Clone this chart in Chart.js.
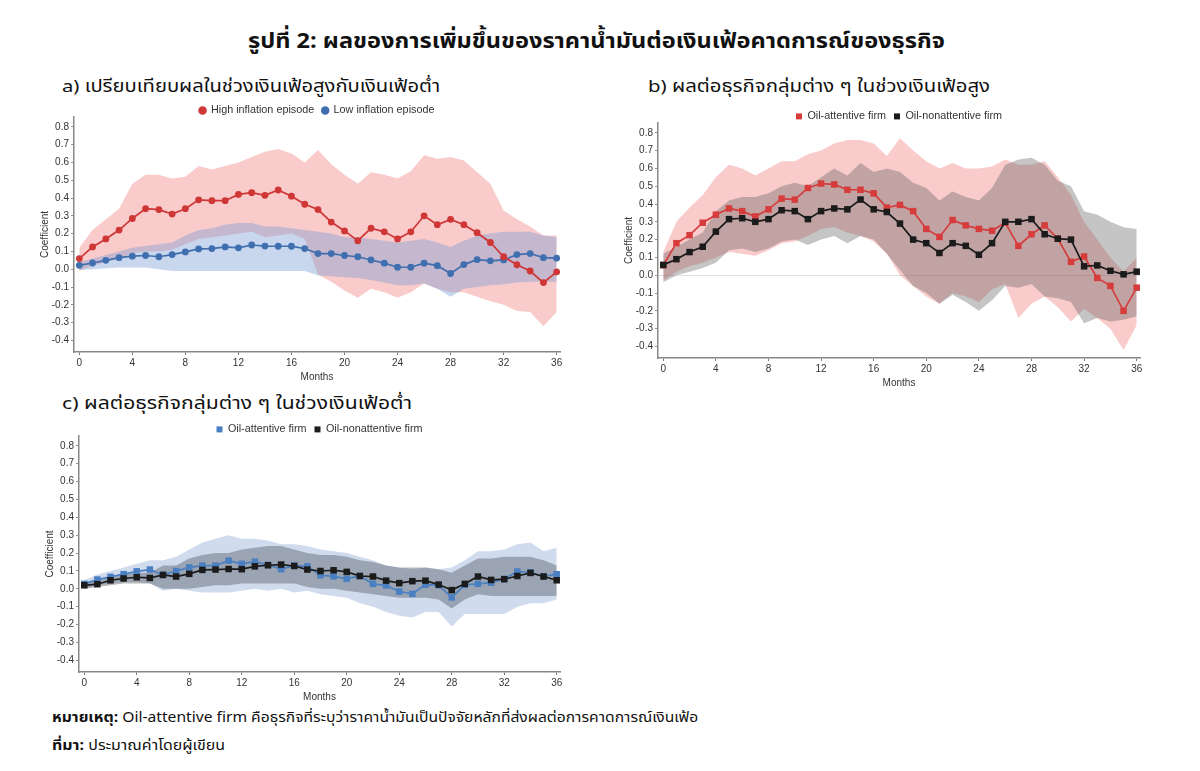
<!DOCTYPE html>
<html>
<head>
<meta charset="utf-8">
<script src="https://cdn.jsdelivr.net/npm/chart.js@4.4.1/dist/chart.umd.min.js"></script>
<style>
  body { margin: 0; background: #fff; width: 1200px; height: 771px; position: relative; overflow: hidden;
         font-family: "Noto Sans Thai", "Noto Sans", "DejaVu Sans", sans-serif; color: #111; }
  .t { position: absolute; white-space: nowrap; transform-origin: left center; line-height: 30px; }
  .box { position: absolute; }
</style>
</head>
<body>
<div class="t" data-w="697" style="left:248px;top:27px;font-size:22px;font-weight:bold">รูปที่ 2: ผลของการเพิ่มขึ้นของราคาน้ำมันต่อเงินเฟ้อคาดการณ์ของธุรกิจ</div>
<div class="t" data-w="378" style="left:62px;top:72px;font-size:17px">a) เปรียบเทียบผลในช่วงเงินเฟ้อสูงกับเงินเฟ้อต่ำ</div>
<div class="t" data-w="342" style="left:648px;top:72px;font-size:17px">b) ผลต่อธุรกิจกลุ่มต่าง ๆ ในช่วงเงินเฟ้อสูง</div>
<div class="t" data-w="350" style="left:62px;top:389px;font-size:17px">c) ผลต่อธุรกิจกลุ่มต่าง ๆ ในช่วงเงินเฟ้อต่ำ</div>
<div class="t" data-w="646" style="left:52px;top:703px;font-size:14px"><b>หมายเหตุ:</b> Oil-attentive firm คือธุรกิจที่ระบุว่าราคาน้ำมันเป็นปัจจัยหลักที่ส่งผลต่อการคาดการณ์เงินเฟ้อ</div>
<div class="t" data-w="173" style="left:52px;top:731px;font-size:14px"><b>ที่มา:</b> ประมาณค่าโดยผู้เขียน</div>

<div class="box" style="left:30px;top:97px;width:550px;height:286px"><canvas id="ca"></canvas></div>
<div class="box" style="left:614px;top:103px;width:546px;height:286px"><canvas id="cb"></canvas></div>
<div class="box" style="left:35px;top:416px;width:545px;height:287px"><canvas id="cc"></canvas></div>

<script>
// horizon in months
const months = [0,1,2,3,4,5,6,7,8,9,10,11,12,13,14,15,16,17,18,19,20,21,22,23,24,25,26,27,28,29,30,31,32,33,34,35,36];
const xTicks = [0,4,8,12,16,20,24,28,32,36];
const yTicks = [-0.4,-0.3,-0.2,-0.1,0,0.1,0.2,0.3,0.4,0.5,0.6,0.7,0.8];

// a) high vs low inflation episode
const aHigh   = [0.06,0.125,0.17,0.22,0.285,0.34,0.335,0.31,0.34,0.39,0.385,0.385,0.42,0.43,0.415,0.445,0.41,0.365,0.335,0.265,0.215,0.16,0.23,0.21,0.17,0.21,0.30,0.25,0.28,0.25,0.205,0.15,0.07,0.025,-0.01,-0.075,-0.015];
const aHighUp = [0.12,0.22,0.28,0.34,0.48,0.53,0.53,0.51,0.52,0.58,0.56,0.58,0.6,0.63,0.66,0.675,0.65,0.6,0.67,0.59,0.53,0.48,0.545,0.53,0.51,0.55,0.64,0.62,0.63,0.61,0.545,0.48,0.33,0.28,0.24,0.19,0.19];
const aHighLo = [-0.01,0.02,0.04,0.06,0.09,0.1,0.1,0.11,0.14,0.17,0.18,0.19,0.2,0.21,0.18,0.19,0.2,0.17,-0.03,-0.07,-0.12,-0.16,-0.11,-0.13,-0.16,-0.13,-0.08,-0.11,-0.13,-0.13,-0.155,-0.18,-0.2,-0.235,-0.24,-0.32,-0.24];
const aLow    = [0.022,0.035,0.05,0.065,0.073,0.077,0.07,0.082,0.097,0.114,0.116,0.125,0.12,0.136,0.13,0.129,0.129,0.116,0.088,0.088,0.077,0.07,0.052,0.034,0.011,0.011,0.034,0.02,-0.024,0.026,0.054,0.047,0.052,0.082,0.088,0.065,0.062];
const aLowUp  = [0.04,0.06,0.08,0.1,0.12,0.13,0.14,0.15,0.19,0.22,0.23,0.25,0.26,0.26,0.24,0.24,0.23,0.22,0.21,0.2,0.18,0.18,0.17,0.16,0.15,0.16,0.17,0.15,0.125,0.16,0.19,0.2,0.21,0.21,0.21,0.19,0.18];
const aLowLo  = [-0.005,0,0.005,0.01,0.01,0.01,0,-0.01,-0.01,-0.01,-0.01,-0.01,-0.01,-0.01,-0.01,-0.01,-0.01,-0.01,-0.035,-0.04,-0.045,-0.05,-0.06,-0.075,-0.09,-0.09,-0.08,-0.11,-0.155,-0.11,-0.1,-0.09,-0.085,-0.075,-0.07,-0.07,-0.07];

// b) firm groups, high inflation
const bAtt    = [0.056,0.18,0.225,0.295,0.34,0.375,0.36,0.33,0.37,0.43,0.425,0.49,0.515,0.51,0.48,0.48,0.46,0.38,0.395,0.36,0.26,0.215,0.31,0.28,0.26,0.25,0.295,0.165,0.23,0.28,0.205,0.075,0.105,-0.015,-0.06,-0.2,-0.07];
const bAttUp  = [0.13,0.3,0.38,0.45,0.55,0.62,0.6,0.56,0.6,0.64,0.64,0.68,0.7,0.74,0.76,0.76,0.74,0.67,0.77,0.7,0.64,0.6,0.63,0.6,0.6,0.61,0.65,0.62,0.62,0.64,0.55,0.45,0.3,0.2,0.1,0.02,0.1];
const bAttLo  = [-0.03,0.02,0.05,0.07,0.1,0.13,0.12,0.11,0.14,0.18,0.19,0.22,0.26,0.27,0.24,0.22,0.19,0.12,0,-0.06,-0.12,-0.16,-0.1,-0.12,-0.15,-0.08,-0.05,-0.24,-0.16,-0.12,-0.18,-0.26,-0.19,-0.24,-0.3,-0.42,-0.28];
const bNon    = [0.058,0.09,0.13,0.16,0.245,0.315,0.32,0.3,0.315,0.365,0.36,0.315,0.36,0.375,0.37,0.425,0.37,0.355,0.29,0.2,0.18,0.125,0.18,0.165,0.115,0.18,0.3,0.3,0.315,0.23,0.205,0.2,0.05,0.055,0.025,0.005,0.02];
const bNonUp  = [0.12,0.16,0.2,0.24,0.36,0.42,0.44,0.44,0.46,0.5,0.52,0.5,0.55,0.6,0.56,0.63,0.58,0.6,0.58,0.52,0.49,0.42,0.47,0.44,0.42,0.49,0.62,0.65,0.66,0.62,0.53,0.5,0.36,0.34,0.3,0.27,0.26];
const bNonLo  = [-0.04,0,0.02,0.04,0.07,0.14,0.15,0.13,0.15,0.19,0.2,0.17,0.2,0.22,0.18,0.22,0.2,0.12,0.03,-0.06,-0.1,-0.16,-0.11,-0.15,-0.2,-0.14,-0.06,-0.07,-0.05,-0.12,-0.13,-0.15,-0.27,-0.24,-0.26,-0.25,-0.23];

// c) firm groups, low inflation
const cAtt    = [0.028,0.052,0.067,0.082,0.098,0.108,0.078,0.1,0.12,0.13,0.13,0.158,0.14,0.152,0.134,0.11,0.13,0.126,0.076,0.07,0.056,0.072,0.028,0.019,-0.015,-0.028,0.024,0.02,-0.048,0.022,0.028,0.035,0.056,0.097,0.093,0.07,0.082];
const cAttUp  = [0.05,0.08,0.1,0.12,0.14,0.16,0.16,0.18,0.22,0.26,0.28,0.3,0.28,0.28,0.27,0.25,0.25,0.24,0.22,0.21,0.2,0.18,0.16,0.13,0.12,0.11,0.12,0.11,0.12,0.16,0.21,0.21,0.22,0.25,0.26,0.21,0.23];
const cAttLo  = [0,0.02,0.03,0.04,0.04,0.03,-0.01,0,-0.01,-0.02,-0.02,-0.02,-0.01,0,-0.01,0,-0.02,-0.01,-0.03,-0.04,-0.05,-0.08,-0.1,-0.13,-0.15,-0.16,-0.13,-0.13,-0.21,-0.14,-0.14,-0.14,-0.14,-0.1,-0.08,-0.08,-0.06];
const cNon    = [0.02,0.026,0.048,0.058,0.065,0.061,0.078,0.069,0.084,0.106,0.108,0.111,0.11,0.126,0.132,0.136,0.128,0.108,0.1,0.104,0.095,0.072,0.069,0.046,0.032,0.043,0.046,0.024,-0.007,0.028,0.069,0.05,0.054,0.072,0.089,0.069,0.048];
const cNonUp  = [0.04,0.05,0.06,0.08,0.09,0.09,0.13,0.13,0.17,0.19,0.2,0.2,0.22,0.23,0.24,0.24,0.22,0.2,0.19,0.19,0.18,0.16,0.15,0.13,0.12,0.12,0.12,0.11,0.09,0.13,0.17,0.17,0.18,0.18,0.18,0.16,0.13];
const cNonLo  = [0,0.01,0.02,0.03,0.03,0.03,0,0,0,0.01,0.02,0.02,0.03,0.03,0.03,0.03,0.03,0.01,0,0,-0.01,-0.02,-0.03,-0.04,-0.05,-0.05,-0.05,-0.06,-0.11,-0.06,-0.03,-0.04,-0.04,-0.04,-0.04,-0.04,-0.04];

const pts = vals => months.map((m, i) => ({ x: m, y: vals[i] }));

// confidence band = upper line filled down to lower line
function band(up, lo, color, order) {
  return [
    { label: '', data: pts(up), fill: '+1', backgroundColor: color, borderColor: 'transparent', borderWidth: 0, pointRadius: 0, order },
    { label: '', data: pts(lo), fill: false, borderColor: 'transparent', borderWidth: 0, pointRadius: 0, order }
  ];
}

function line(label, vals, color, style, radius, order) {
  return { label, data: pts(vals), borderColor: color, backgroundColor: color, borderWidth: 1.7,
           pointStyle: style, pointRadius: radius, pointBorderWidth: 0, fill: false, order, isLine: true };
}

const tickFont = { family: 'Liberation Sans', size: 10 };

function panel(id, datasets, zeroLine) {
  return new Chart(document.getElementById(id), {
    type: 'line',
    data: { datasets },
    options: {
      responsive: true,
      maintainAspectRatio: false,
      animation: false,
      layout: { padding: { top: 0, right: 20, left: 0, bottom: 0 } },
      plugins: {
        tooltip: { enabled: false },
        legend: {
          fullSize: false,
          maxHeight: 20,
          labels: {
            usePointStyle: true, boxWidth: 6, boxHeight: 6, padding: 8, color: '#333',
            font: { family: 'Liberation Sans', size: 10.8 },
            filter: (item, data) => !!data.datasets[item.datasetIndex].isLine,
            sort: (a, b) => a.datasetIndex - b.datasetIndex
          }
        }
      },
      scales: {
        x: {
          type: 'linear', min: -0.4, max: 36.25,
          afterBuildTicks: s => { s.ticks = xTicks.map(v => ({ value: v })); },
          afterFit: s => { s.height = 31; },
          ticks: { font: tickFont, color: '#333', padding: 2, maxRotation: 0 },
          title: { display: true, text: 'Months', font: { family: 'Liberation Sans', size: 10 }, color: '#333', padding: { top: 2, bottom: 0 } },
          grid: { drawOnChartArea: false, tickLength: 3, tickColor: '#777' },
          border: { color: '#888', width: 1.5 }
        },
        y: {
          min: -0.465, max: 0.855,
          afterBuildTicks: s => { s.ticks = yTicks.map(v => ({ value: v })); },
          afterFit: s => { s.width = 44; },
          ticks: { font: tickFont, color: '#333', padding: 2, callback: v => v.toFixed(1) },
          title: { display: true, text: 'Coefficient', font: { family: 'Liberation Sans', size: 10 }, color: '#333', padding: { top: 9, bottom: 0 } },
          grid: {
            drawOnChartArea: zeroLine, tickLength: 3, tickColor: '#777', lineWidth: 0.8,
            color: ctx => (ctx.tick && ctx.tick.value === 0) ? '#d8d8d8' : 'transparent'
          },
          border: { color: '#888', width: 1.5 }
        }
      }
    }
  });
}

const red = '#cf3636', blue = '#3f6fae', black = '#1b1b1b', blueC = '#4a7fc1';

panel('ca', [
  line('High inflation episode', aHigh, red, 'circle', 3.4, 0),
  line('Low inflation episode', aLow, blue, 'circle', 3.4, 1),
  ...band(aHighUp, aHighLo, 'rgba(236,92,92,0.32)', 4),
  ...band(aLowUp, aLowLo, 'rgba(110,150,210,0.38)', 3)
], false);

panel('cb', [
  line('Oil-attentive firm', bAtt, '#d63c3c', 'rect', 4.6, 1),
  line('Oil-nonattentive firm', bNon, black, 'rect', 4.6, 0),
  ...band(bAttUp, bAttLo, 'rgba(236,92,92,0.32)', 4),
  ...band(bNonUp, bNonLo, 'rgba(90,90,90,0.35)', 3)
], true);

panel('cc', [
  line('Oil-attentive firm', cAtt, blueC, 'rect', 4.6, 1),
  line('Oil-nonattentive firm', cNon, black, 'rect', 4.6, 0),
  ...band(cAttUp, cAttLo, 'rgba(120,155,205,0.35)', 4),
  ...band(cNonUp, cNonLo, 'rgba(80,85,95,0.42)', 3)
], false);

// squeeze the Thai text blocks to the widths of the original
document.fonts.ready.then(() => {
  document.querySelectorAll('.t[data-w]').forEach(el => {
    const w = el.getBoundingClientRect().width;
    el.style.transform = 'scaleX(' + (+el.dataset.w / w).toFixed(3) + ')';
  });
});
</script>
</body>
</html>
